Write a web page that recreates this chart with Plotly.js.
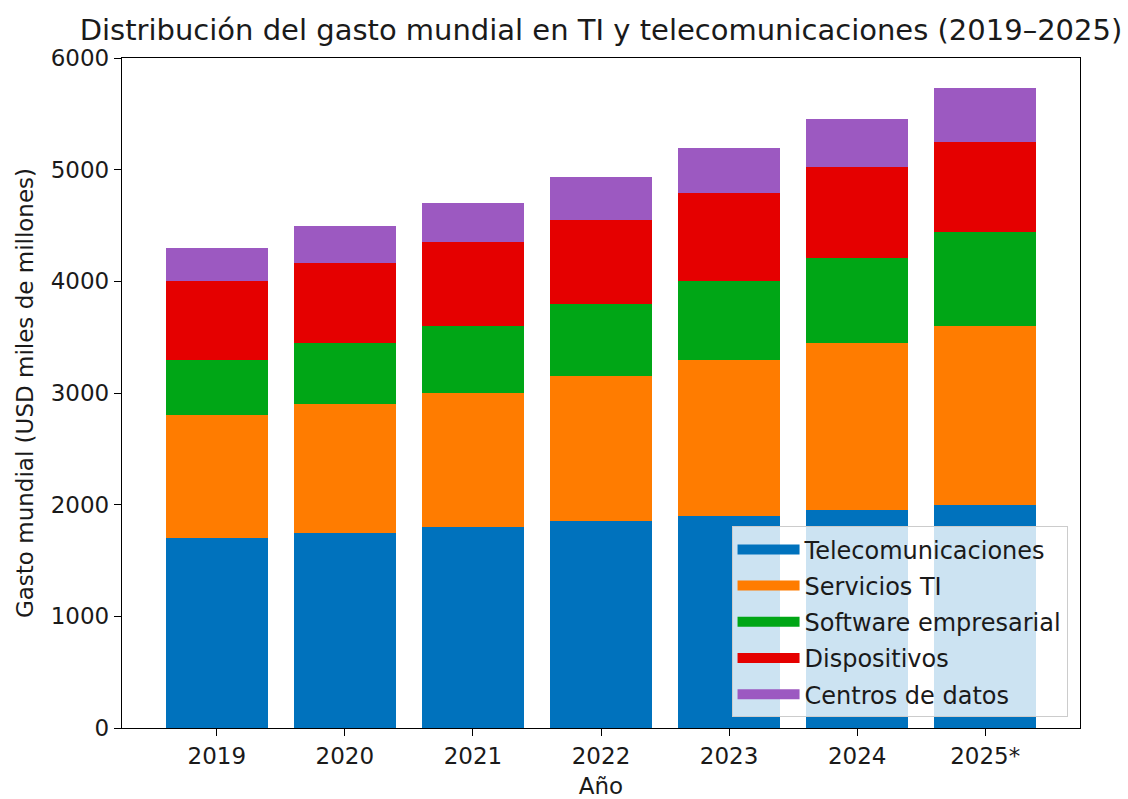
<!DOCTYPE html>
<html>
<head>
<meta charset="utf-8">
<script src="https://cdn.plot.ly/plotly-3.0.1.min.js"></script>
<style>
  body { margin: 0; background: #fff; }
  #chart { width: 1128px; height: 799px; }
</style>
</head>
<body>
<div id="chart"></div>
<script>
// years on the x axis (2025 is a forecast)
var years = ["2019", "2020", "2021", "2022", "2023", "2024", "2025*"];

// spending per segment, USD billions
var telecom = [1700, 1750, 1800, 1850, 1900, 1950, 2000];
var servicios = [1100, 1150, 1200, 1300, 1400, 1500, 1600];
var software = [500, 550, 600, 650, 700, 760, 840];
var dispositivos = [700, 710, 750, 750, 790, 810, 810];
var centros = [300, 340, 350, 380, 400, 430, 480];

var names = ["Telecomunicaciones", "Servicios TI", "Software empresarial", "Dispositivos", "Centros de datos"];
var colors = ["#0072bd", "#ff7c00", "#00a616", "#e50000", "#9c59c1"];
var series = [telecom, servicios, software, dispositivos, centros];

var data = [];
// stacked bars
for (var i = 0; i < series.length; i++) {
    data.push({
        type: "bar",
        x: years,
        y: series[i],
        name: names[i],
        marker: {color: colors[i], line: {width: 0}},
        showlegend: false,
        hoverinfo: "x+y+name"
    });
}
// legend entries drawn as wide patches, like matplotlib
for (var j = 0; j < names.length; j++) {
    data.push({
        type: "scatter",
        mode: "lines",
        x: [null],
        y: [null],
        name: names[j],
        legendgroup: "g" + j,
        line: {color: colors[j], width: 16},
        hoverinfo: "skip"
    });
}

var font = {family: "DejaVu Sans, sans-serif", color: "#1a1a1a", size: 24};

var layout = {
    width: 1128,
    height: 799,
    margin: {l: 122, r: 48, t: 58, b: 71},
    paper_bgcolor: "#fff",
    plot_bgcolor: "#fff",
    font: font,
    barmode: "stack",
    bargap: 0.2,
    title: {
        text: "Distribución del gasto mundial en TI y telecomunicaciones (2019–2025)",
        font: {family: font.family, size: 29, color: "#1a1a1a"},
        xref: "paper", x: 0.5, xanchor: "center",
        yref: "container", y: 1 - 30 / 799, yanchor: "middle"
    },
    xaxis: {
        type: "category",
        range: [-0.74, 6.74],
        showline: true, linecolor: "#000", linewidth: 1.3, mirror: true,
        showgrid: false, zeroline: false,
        ticks: "outside", ticklen: 7, tickcolor: "#000", tickwidth: 1.3,
        tickfont: {size: 23},
        title: {text: "Año", font: {size: 23}, standoff: 14}
    },
    yaxis: {
        range: [0, 6000],
        dtick: 1000,
        showline: true, linecolor: "#000", linewidth: 1.3, mirror: true,
        showgrid: false, zeroline: false,
        ticks: "outside", ticklen: 7, tickcolor: "#000", tickwidth: 1.3,
        tickfont: {size: 23},
        title: {text: "Gasto mundial (USD miles de millones)", font: {size: 23}, standoff: 10}
    },
    legend: {
        x: 0.987, xanchor: "right",
        y: 0.016, yanchor: "bottom",
        bgcolor: "rgba(255,255,255,0.8)",
        bordercolor: "#cccccc",
        borderwidth: 1,
        traceorder: "grouped",
        tracegroupgap: 2,
        itemwidth: 62,
        font: {size: 24}
    },
    showlegend: true
};

Plotly.newPlot("chart", data, layout, {displayModeBar: false});
</script>
</body>
</html>
